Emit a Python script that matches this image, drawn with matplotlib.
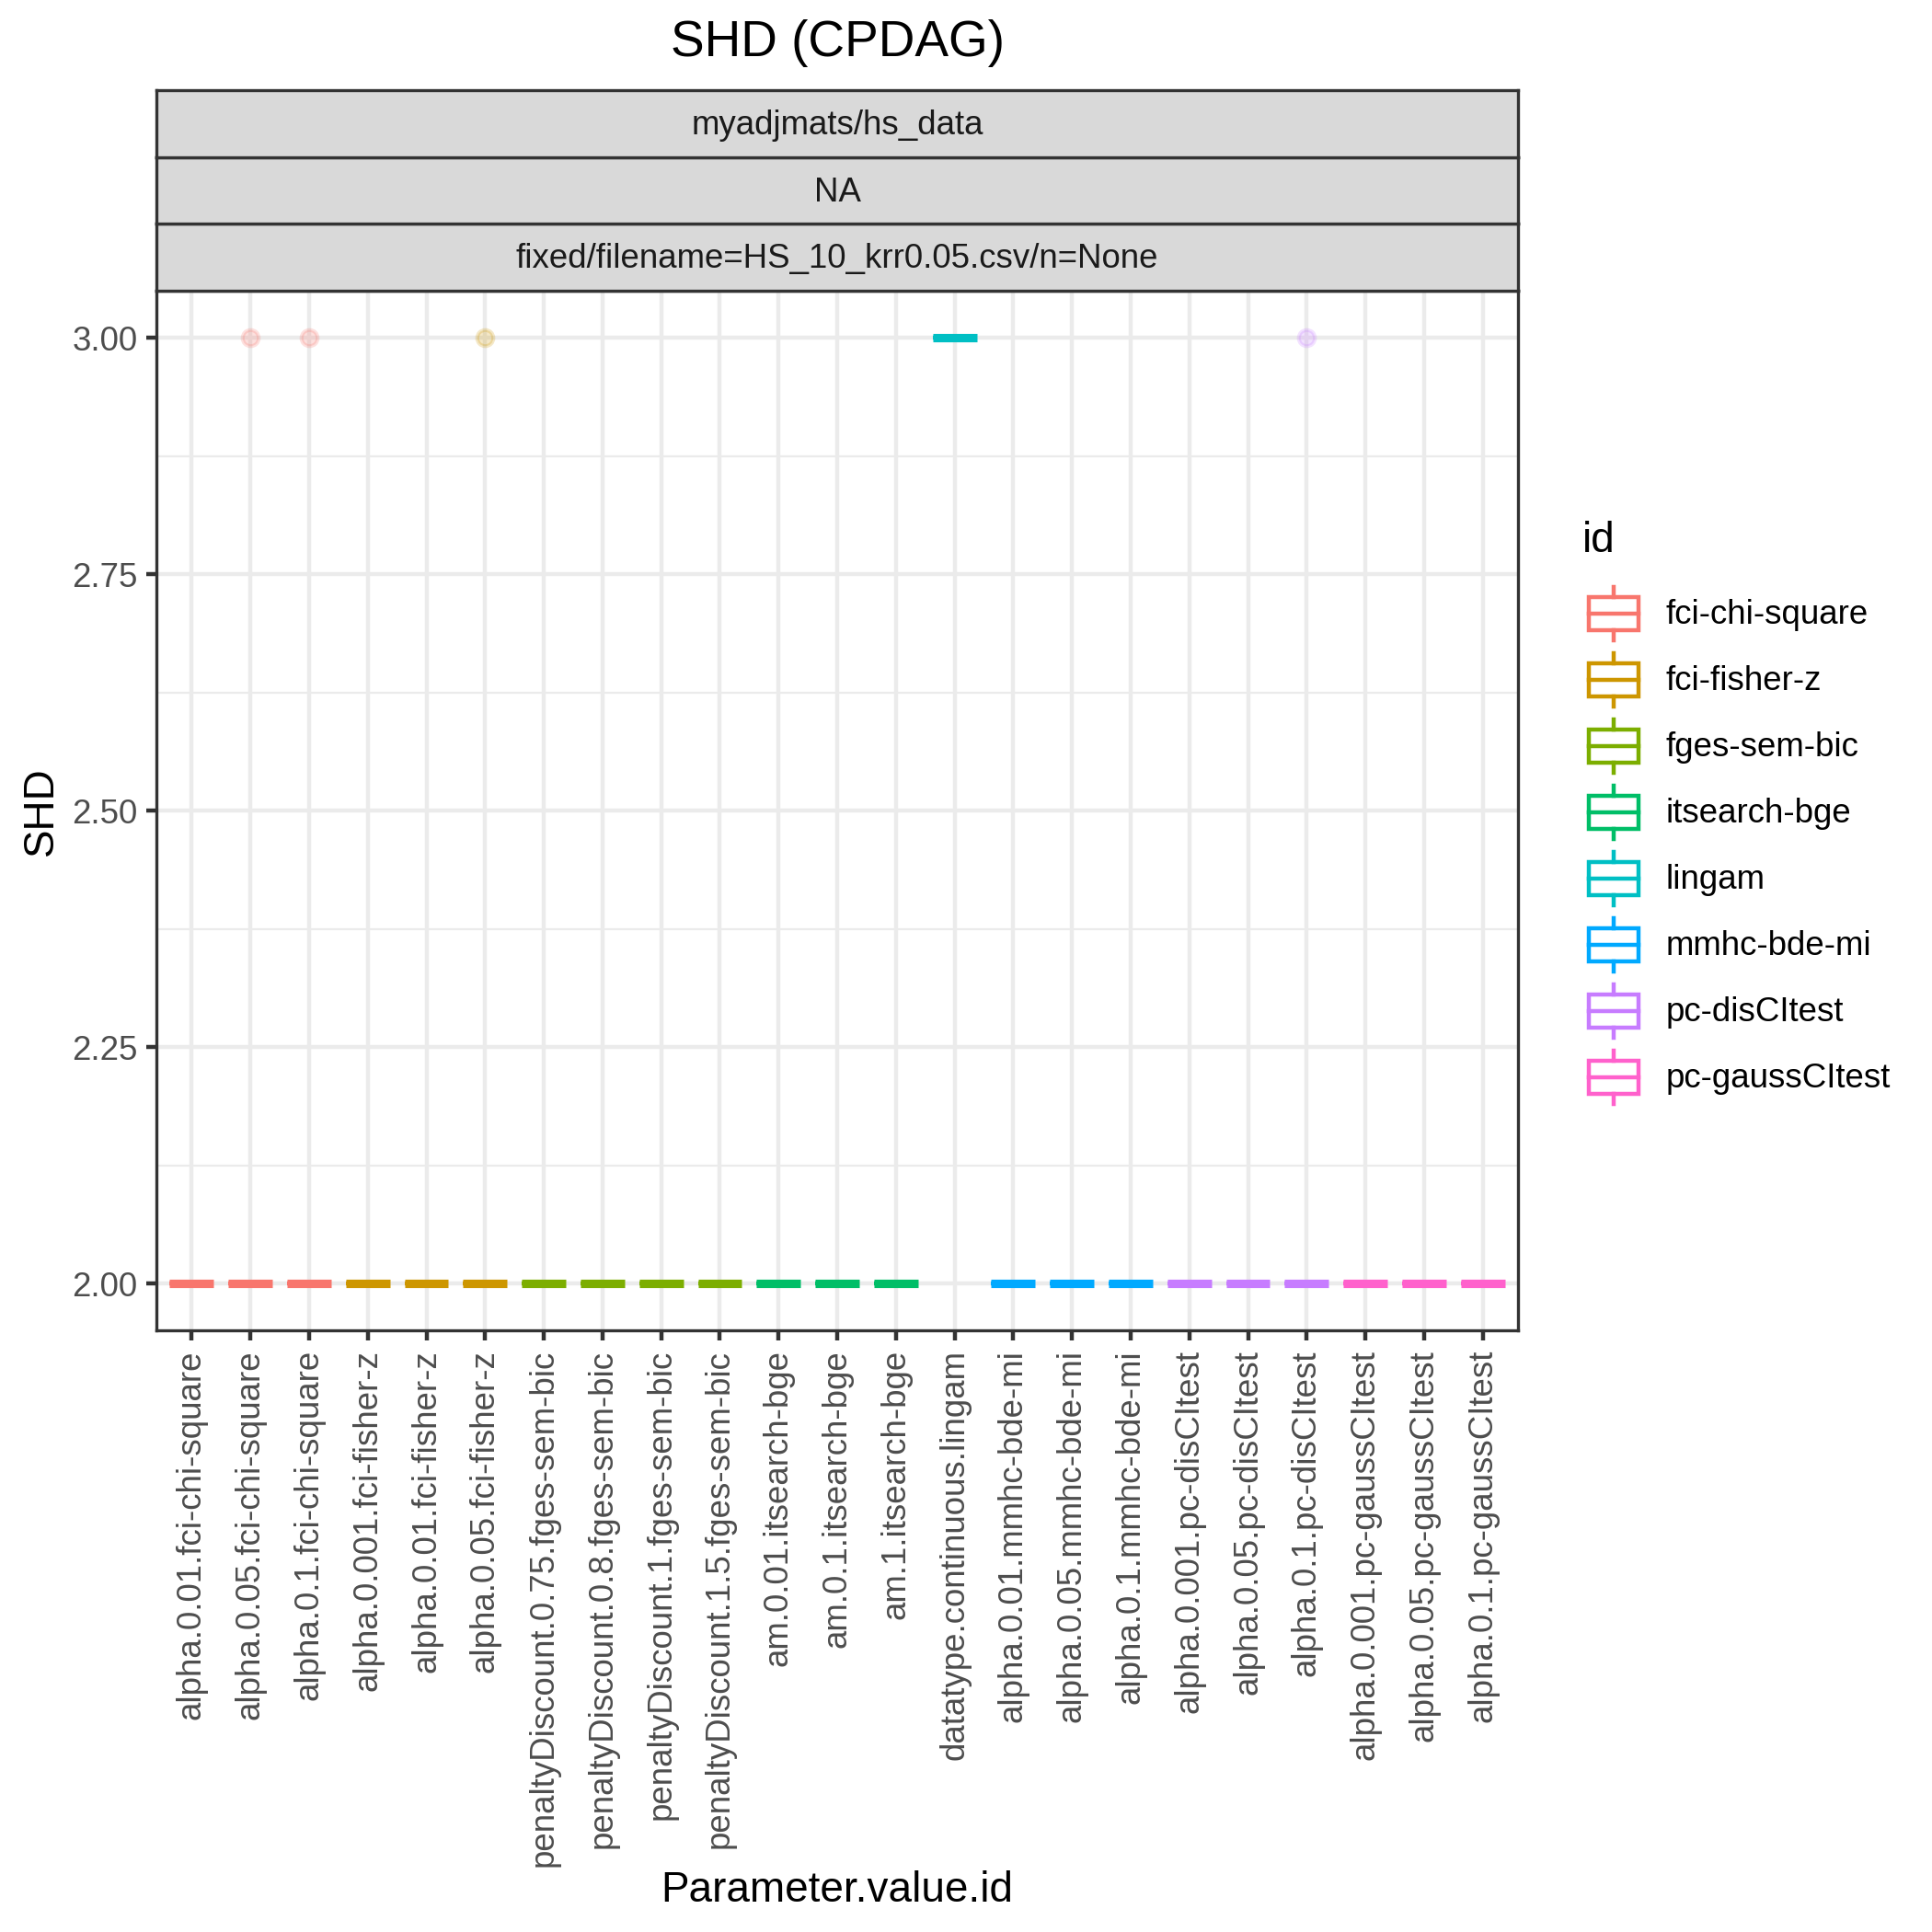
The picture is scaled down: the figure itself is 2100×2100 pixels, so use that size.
import matplotlib.pyplot as plt
from matplotlib.legend_handler import HandlerBase
from matplotlib.lines import Line2D
from matplotlib.patches import Rectangle

plt.rcParams["font.family"] = ["Liberation Sans", "DejaVu Sans"]

# algorithm ids and ggplot default hue colours
ids = [
    "fci-chi-square", "fci-fisher-z", "fges-sem-bic", "itsearch-bge",
    "lingam", "mmhc-bde-mi", "pc-disCItest", "pc-gaussCItest",
]
id_colors = [
    "#F8766D", "#CD9600", "#7CAE00", "#00BE67",
    "#00BFC4", "#00A9FF", "#C77CFF", "#FF61CC",
]

categories = [
    "alpha.0.01.fci-chi-square", "alpha.0.05.fci-chi-square", "alpha.0.1.fci-chi-square",
    "alpha.0.001.fci-fisher-z", "alpha.0.01.fci-fisher-z", "alpha.0.05.fci-fisher-z",
    "penaltyDiscount.0.75.fges-sem-bic", "penaltyDiscount.0.8.fges-sem-bic",
    "penaltyDiscount.1.fges-sem-bic", "penaltyDiscount.1.5.fges-sem-bic",
    "am.0.01.itsearch-bge", "am.0.1.itsearch-bge", "am.1.itsearch-bge",
    "datatype.continuous.lingam",
    "alpha.0.01.mmhc-bde-mi", "alpha.0.05.mmhc-bde-mi", "alpha.0.1.mmhc-bde-mi",
    "alpha.0.001.pc-disCItest", "alpha.0.05.pc-disCItest", "alpha.0.1.pc-disCItest",
    "alpha.0.001.pc-gaussCItest", "alpha.0.05.pc-gaussCItest", "alpha.0.1.pc-gaussCItest",
]
category_ids = [
    "fci-chi-square", "fci-chi-square", "fci-chi-square",
    "fci-fisher-z", "fci-fisher-z", "fci-fisher-z",
    "fges-sem-bic", "fges-sem-bic", "fges-sem-bic", "fges-sem-bic",
    "itsearch-bge", "itsearch-bge", "itsearch-bge",
    "lingam",
    "mmhc-bde-mi", "mmhc-bde-mi", "mmhc-bde-mi",
    "pc-disCItest", "pc-disCItest", "pc-disCItest",
    "pc-gaussCItest", "pc-gaussCItest", "pc-gaussCItest",
]

# SHD per replicate for each parameter setting
shd_values = [
    [2, 2, 2, 2, 2, 2, 2, 2, 2, 2],
    [2, 2, 2, 2, 2, 2, 2, 2, 2, 3],
    [2, 2, 2, 2, 2, 2, 2, 2, 2, 3],
    [2, 2, 2, 2, 2, 2, 2, 2, 2, 2],
    [2, 2, 2, 2, 2, 2, 2, 2, 2, 2],
    [2, 2, 2, 2, 2, 2, 2, 2, 2, 3],
    [2, 2, 2, 2, 2, 2, 2, 2, 2, 2],
    [2, 2, 2, 2, 2, 2, 2, 2, 2, 2],
    [2, 2, 2, 2, 2, 2, 2, 2, 2, 2],
    [2, 2, 2, 2, 2, 2, 2, 2, 2, 2],
    [2, 2, 2, 2, 2, 2, 2, 2, 2, 2],
    [2, 2, 2, 2, 2, 2, 2, 2, 2, 2],
    [2, 2, 2, 2, 2, 2, 2, 2, 2, 2],
    [3, 3, 3, 3, 3, 3, 3, 3, 3, 3],
    [2, 2, 2, 2, 2, 2, 2, 2, 2, 2],
    [2, 2, 2, 2, 2, 2, 2, 2, 2, 2],
    [2, 2, 2, 2, 2, 2, 2, 2, 2, 2],
    [2, 2, 2, 2, 2, 2, 2, 2, 2, 2],
    [2, 2, 2, 2, 2, 2, 2, 2, 2, 2],
    [2, 2, 2, 2, 2, 2, 2, 2, 2, 3],
    [2, 2, 2, 2, 2, 2, 2, 2, 2, 2],
    [2, 2, 2, 2, 2, 2, 2, 2, 2, 2],
    [2, 2, 2, 2, 2, 2, 2, 2, 2, 2],
]

strip_labels = ["myadjmats/hs_data", "NA", "fixed/filename=HS_10_krr0.05.csv/n=None"]
y_ticks = [2.00, 2.25, 2.50, 2.75, 3.00]
y_minor = [2.125, 2.375, 2.625, 2.875]

GRID = "#EBEBEB"
DARK = "#333333"
LW = 1.07


class BoxKeyHandler(HandlerBase):
    # ggplot-style boxplot legend key
    def create_artists(self, legend, orig_handle, xdescent, ydescent, width, height, fontsize, trans):
        c = orig_handle.get_color()
        x0, y0 = -xdescent, -ydescent
        xm = x0 + width / 2
        box = Rectangle((x0 + 0.1 * width, y0 + 0.25 * height), 0.8 * width, 0.5 * height,
                        facecolor="white", edgecolor=c, lw=LW, transform=trans)
        med = Line2D([x0 + 0.1 * width, x0 + 0.9 * width], [y0 + 0.5 * height] * 2, color=c, lw=LW, transform=trans)
        w1 = Line2D([xm, xm], [y0 + 0.1 * height, y0 + 0.25 * height], color=c, lw=LW, transform=trans)
        w2 = Line2D([xm, xm], [y0 + 0.75 * height, y0 + 0.9 * height], color=c, lw=LW, transform=trans)
        return [box, med, w1, w2]


fig = plt.figure(figsize=(7, 7), dpi=300)

S = 1568
left, right = 127 / S, 1232 / S
bottom, top = 1 - 1080 / S, 1 - 236 / S
strip_h = (236 - 73) / 3 / S

ax = fig.add_axes([left, bottom, right - left, top - bottom])
color_of = dict(zip(ids, id_colors))

for i, (vals, cid) in enumerate(zip(shd_values, category_ids)):
    c = color_of[cid]
    ax.boxplot(
        [vals],
        positions=[i + 1],
        widths=0.75,
        showcaps=False,
        patch_artist=True,
        boxprops=dict(facecolor="white", edgecolor=c, linewidth=LW),
        medianprops=dict(color=c, linewidth=2.2, solid_capstyle="butt"),
        whiskerprops=dict(color=c, linewidth=LW),
        flierprops=dict(marker="o", markerfacecolor=c, markeredgecolor=c, markersize=4.2, alpha=0.22),
        zorder=3,
    )

ax.set_xlim(0.4, len(categories) + 0.6)
ax.set_ylim(1.95, 3.05)
ax.set_xticks(range(1, len(categories) + 1))
ax.set_xticklabels(categories, rotation=90, ha="center", va="top")
ax.set_yticks(y_ticks)
ax.set_yticklabels([f"{v:.2f}" for v in y_ticks])
ax.set_yticks(y_minor, minor=True)
ax.tick_params(axis="both", which="major", length=2.75, width=LW, color=DARK,
               labelsize=8.8, labelcolor="#4D4D4D", pad=2.2)
ax.tick_params(axis="y", which="minor", length=0)
ax.grid(True, which="major", color=GRID, lw=LW, zorder=0)
ax.grid(True, which="minor", axis="y", color=GRID, lw=LW / 2, zorder=0)
ax.set_axisbelow(True)
for s in ax.spines.values():
    s.set_color(DARK)
    s.set_linewidth(0.8)

ax.set_xlabel("Parameter.value.id", fontsize=11, labelpad=1.0)
ax.set_ylabel("SHD", fontsize=11, labelpad=2.75)

# facet strips
for k, label in enumerate(strip_labels[::-1]):
    sax = fig.add_axes([left, top + k * strip_h, right - left, strip_h])
    sax.set_facecolor("#D9D9D9")
    sax.set_xticks([])
    sax.set_yticks([])
    for s in sax.spines.values():
        s.set_color(DARK)
        s.set_linewidth(0.8)
    sax.text(0.5, 0.47, label, ha="center", va="center", fontsize=8.8, color="#1A1A1A", transform=sax.transAxes)

fig.text((left + right) / 2, 1 - 35 / S, "SHD (CPDAG)", ha="center", va="center", fontsize=13.2)

handles = [Line2D([], [], color=c) for c in id_colors]
leg = fig.legend(
    handles, ids, title="id", loc="center left", bbox_to_anchor=(1276 / S, 1 - 662 / S),
    frameon=False, fontsize=8.8, title_fontsize=11, handlelength=1.85, handleheight=2.644,
    labelspacing=0.0, handletextpad=0.62, borderpad=0.3, borderaxespad=0.0, alignment="left",
    handler_map={Line2D: BoxKeyHandler()},
)
leg._legend_box.sep = 5

fig.savefig("out.png", dpi=300)
